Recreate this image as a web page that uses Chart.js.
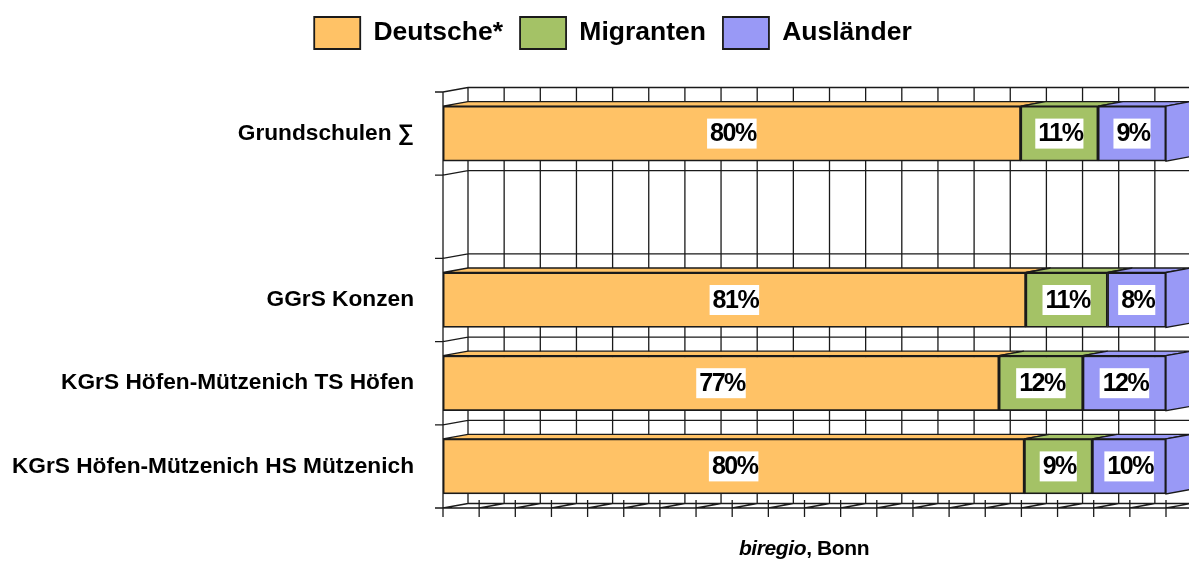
<!DOCTYPE html>
<html>
<head>
<meta charset="utf-8">
<script src="https://cdn.jsdelivr.net/npm/chart.js@4.4.0/dist/chart.umd.min.js"></script>
<style>
  html, body { margin: 0; padding: 0; background: #fff; }
  #wrap { position: relative; width: 1189px; height: 561px; }
  #source {
    position: absolute; left: 704px; top: 536px; width: 200px; text-align: center;
    font: bold 21px "Liberation Sans", Arial, sans-serif; letter-spacing: -0.4px; color: #000;
  }
</style>
</head>
<body>
<div id="wrap">
  <canvas id="chart"></canvas>
  <div id="source"><i>biregio</i>, Bonn</div>
</div>
<script>
// ---- data ------------------------------------------------------------------
const CATEGORIES = [
  "Grundschulen ∑",
  "",
  "GGrS Konzen",
  "KGrS Höfen-Mützenich TS Höfen",
  "KGrS Höfen-Mützenich HS Mützenich",
];
const SERIES = ["Deutsche*", "Migranten", "Ausländer"];
const DEUTSCHE = [79.9, null, 80.6, 76.9, 80.4];
const MIGRANTEN = [10.7, null, 11.3, 11.6, 9.4];
const AUSLAENDER = [9.4, null, 8.1, 11.5, 10.2];

const COLORS = {
  deutsche: "#FFC266",
  migranten: "#A4C266",
  auslaender: "#9999F6",
  line: "#1a1a1a",
};
const FONT = '"Liberation Sans", Arial, sans-serif';
const DEPTH = { dx: 25, dy: -4.5 }; // oblique 3d offset of the back wall
const LEGEND_SHIFT = 30;            // legend sits right of the canvas centre

// ---- 3d frame: back wall grid, side wall, floor ----------------------------
const frame3d = {
  id: "frame3d",
  afterLayout(chart) {
    chart.legend.left += LEGEND_SHIFT;
    chart.legend.right += LEGEND_SHIFT;
  },
  beforeDatasetsDraw(chart) {
    const { ctx, chartArea: a, scales: { x: xs, y: ys } } = chart;
    const { dx, dy } = DEPTH;
    const W = chart.width;
    const bounds = [];
    for (let i = 0; i <= CATEGORIES.length; i++) bounds.push(ys.getPixelForValue(i - 0.5));
    const cols = xs.ticks.map(t => xs.getPixelForValue(t.value));

    ctx.save();
    ctx.strokeStyle = COLORS.line;
    ctx.lineWidth = 1.3;
    ctx.beginPath();
    // back wall verticals
    cols.forEach(px => { ctx.moveTo(px + dx, a.top + dy); ctx.lineTo(px + dx, a.bottom + dy); });
    // back wall horizontals + side wall slants + left ticks
    bounds.forEach(yb => {
      ctx.moveTo(a.left + dx, yb + dy); ctx.lineTo(W, yb + dy);
      ctx.moveTo(a.left - 8, yb); ctx.lineTo(a.left, yb); ctx.lineTo(a.left + dx, yb + dy);
    });
    // front left edge
    ctx.moveTo(a.left, a.top); ctx.lineTo(a.left, a.bottom);
    // floor
    ctx.moveTo(a.left - 8, a.bottom); ctx.lineTo(W, a.bottom);
    cols.forEach(px => {
      ctx.moveTo(px, a.bottom); ctx.lineTo(px + dx, a.bottom + dy);
      ctx.moveTo(px, a.bottom - 8); ctx.lineTo(px, a.bottom + 9);
    });
    ctx.stroke();

    // bar depth: top faces, and the side face of the last segment
    const last = chart.data.datasets.length - 1;
    chart.data.datasets.forEach((ds, di) => {
      const meta = chart.getDatasetMeta(di);
      meta.data.forEach((el, i) => {
        if (ds.data[i] == null) return;
        const { x, y, base, height } = el.getProps(["x", "y", "base", "height"], true);
        const top = y - height / 2, bot = y + height / 2;
        ctx.fillStyle = ds.backgroundColor;
        ctx.beginPath();
        ctx.moveTo(base, top); ctx.lineTo(x, top);
        ctx.lineTo(x + dx, top + dy); ctx.lineTo(base + dx, top + dy);
        ctx.closePath(); ctx.fill(); ctx.stroke();
        if (di === last) {
          ctx.beginPath();
          ctx.moveTo(x, top); ctx.lineTo(x + dx, top + dy);
          ctx.lineTo(x + dx, bot + dy); ctx.lineTo(x, bot);
          ctx.closePath(); ctx.fill(); ctx.stroke();
        }
      });
    });
    ctx.restore();
  },
};

// ---- value labels in white boxes -------------------------------------------
const boxLabels = {
  id: "boxLabels",
  afterDatasetsDraw(chart) {
    const { ctx } = chart;
    ctx.save();
    ctx.font = `bold 25px ${FONT}`;
    ctx.letterSpacing = "-1.5px";
    ctx.textAlign = "left";
    ctx.textBaseline = "middle";
    chart.data.datasets.forEach((ds, di) => {
      chart.getDatasetMeta(di).data.forEach((el, i) => {
        const v = ds.data[i];
        if (v == null) return;
        const { x, y, base } = el.getProps(["x", "y", "base"], true);
        const txt = Math.round(v) + "%";
        const w = ctx.measureText(txt).width;
        const cx = (x + base) / 2;
        ctx.fillStyle = "#fff";
        ctx.fillRect(cx - w / 2 - 2, y - 15, w + 4, 30);
        ctx.fillStyle = "#000";
        ctx.fillText(txt, cx - w / 2 + 1, y + 1);
      });
    });
    ctx.restore();
  },
};

// ---- chart -----------------------------------------------------------------
const bar = (label, data, color) => ({
  label, data, backgroundColor: color, borderColor: COLORS.line,
  borderWidth: 1.8, borderSkipped: false, barThickness: 55,
});

new Chart(document.getElementById("chart"), {
  type: "bar",
  data: {
    labels: CATEGORIES,
    datasets: [
      bar(SERIES[0], DEUTSCHE, COLORS.deutsche),
      bar(SERIES[1], MIGRANTEN, COLORS.migranten),
      bar(SERIES[2], AUSLAENDER, COLORS.auslaender),
    ],
  },
  options: {
    indexAxis: "y",
    responsive: true, maintainAspectRatio: false, animation: false,
    layout: { padding: { left: 0, right: 23, top: 0, bottom: 53 } },
    plugins: {
      legend: {
        position: "top", align: "center",
        labels: { boxWidth: 46, boxHeight: 32, padding: 17, color: "#000", font: { family: FONT, size: 26.5, weight: "bold" } },
      },
      tooltip: { enabled: false },
    },
    scales: {
      x: {
        position: "top", stacked: true, min: 0, max: 100,
        ticks: { display: false, stepSize: 5 },
        grid: { display: false, drawTicks: false }, border: { display: false },
        afterFit: s => { s.height = 33; },
      },
      y: {
        stacked: true,
        grid: { display: false, drawTicks: false }, border: { display: false },
        ticks: { padding: 29, color: "#000", font: { family: FONT, size: 22.7, weight: "bold" } },
        afterFit: s => { s.width = 443; },
      },
    },
  },
  plugins: [frame3d, boxLabels],
});
</script>
</body>
</html>
